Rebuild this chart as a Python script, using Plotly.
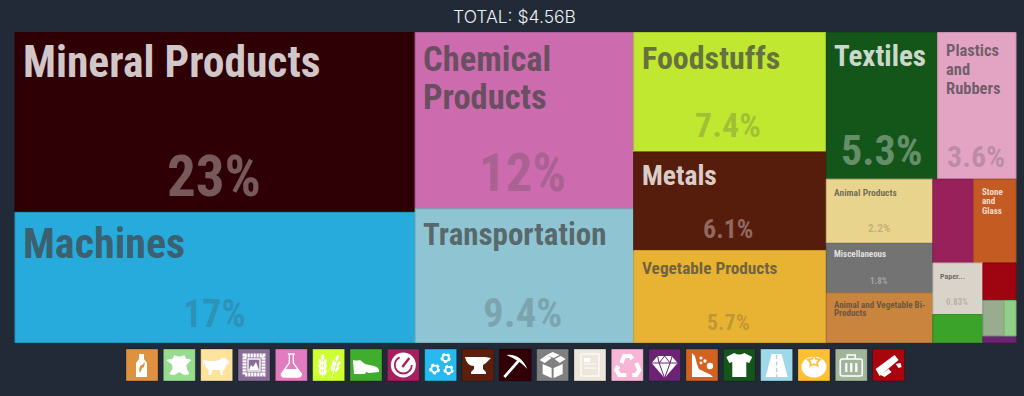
import urllib.parse
import plotly.graph_objects as go

TOTAL_LABEL = "TOTAL: $4.56B"
W, H = 1024, 396
BG = "#212a36"

# Tile data (share of total, per cent)
names = ["Mineral Products", "Machines", "Chemical Products", "Transportation", "Foodstuffs", "Metals",
         "Vegetable Products", "Textiles", "Plastics and Rubbers", "Animal Products", "Miscellaneous",
         "Animal and Vegetable Bi-Products", "Instruments", "Stone and Glass", "Paper Goods", "Footwear and Headwear",
         "Wood Products", "Weapons", "Animal Hides", "Precious Metals"]
shares = [23.15, 16.75, 12.4, 9.4, 7.4, 6.1, 5.7, 5.25, 3.7, 2.2, 1.7, 1.7, 1.1, 1.14, 0.83, 0.45, 0.40, 0.24, 0.135, 0.07]
colors = ["#2e0005", "#27abdd", "#cc6cae", "#8fc5d2", "#c0e830", "#561c0c", "#e8b232", "#14551a", "#e3a4c4",
          "#e8d48c", "#737373", "#c9843e", "#98215c", "#c45b22", "#d9d3c9", "#3ca32a", "#9e0510", "#98ac90",
          "#90cf85", "#6c2372"]

# Nesting of the tiles (slice and dice alternate with depth)
tree = [["Mineral Products", "Machines"],
        ["Chemical Products", "Transportation"],
        ["Foodstuffs", "Metals", "Vegetable Products"],
        [["Textiles", "Plastics and Rubbers"],
         [["Animal Products", "Miscellaneous", "Animal and Vegetable Bi-Products"],
          [["Instruments", "Stone and Glass"],
           [["Paper Goods", "Footwear and Headwear"],
            ["Wood Products", ["Weapons", "Animal Hides"], "Precious Metals"]]]]]]

# Legend of sections
legend_names = ["Animal and Vegetable Bi-Products", "Animal Hides", "Animal Products", "Arts and Antiques",
                "Chemical Products", "Foodstuffs", "Footwear and Headwear", "Instruments", "Machines", "Metals",
                "Mineral Products", "Miscellaneous", "Paper Goods", "Plastics and Rubbers", "Precious Metals",
                "Stone and Glass", "Textiles", "Transportation", "Vegetable Products", "Weapons", "Wood Products"]
legend_colors = ["#e0913f", "#98dd8f", "#ffe39d", "#8a6c97", "#e27cc1", "#cdff33", "#40ad2e", "#a6205f", "#27b9ef",
                 "#5c1f0c", "#300006", "#808080", "#ece6db", "#f7b6d6", "#6c2375", "#d3611f", "#14561a", "#9fd8e8",
                 "#ffbf33", "#a0b59a", "#a8050f"]

# Label text: (text, left x, centre y, size, light?)
FONT = "Roboto Condensed"
name_labels = [
    ("Mineral Products", 23, 63, 43.5, True),
    ("Chemical", 423, 59, 34.5, False),
    ("Products", 423, 97, 34.5, False),
    ("Foodstuffs", 642, 58, 32, False),
    ("Textiles", 834, 56, 29, True),
    ("Plastics", 946, 50, 16.5, False),
    ("and", 946, 69, 16.5, False),
    ("Rubbers", 946, 88, 16.5, False),
    ("Machines", 23, 243, 42, False),
    ("Transportation", 423, 234, 31, False),
    ("Metals", 642, 175, 27.5, True),
    ("Vegetable Products", 642, 268, 17.3, False),
    ("Animal Products", 834, 192, 9.5, False),
    ("Miscellaneous", 834, 254, 9, True),
    ("Animal and Vegetable Bi-", 834, 305, 9, False),
    ("Products", 834, 313, 9, False),
    ("Stone", 982, 192, 9, True),
    ("and", 982, 201, 9, True),
    ("Glass", 982, 211, 9, True),
    ("Paper...", 940, 276, 8, False),
]
# Share labels: (text, centre x, centre y, size, light?)
pct_labels = [
    ("23%", 214, 176, 57, True), ("12%", 522, 173, 53, False), ("7.4%", 728, 125, 34, False),
    ("5.3%", 881, 150, 42, True), ("3.6%", 976, 156, 30, False), ("17%", 214, 314, 38, False),
    ("9.4%", 523, 313, 41, False), ("6.1%", 728, 229, 26, True), ("5.7%", 728, 322, 22, False),
    ("2.2%", 879, 228, 11.5, False), ("1.8%", 879, 281, 9, True), ("0.83%", 957, 302, 9, False),
]

# Icons, each drawn in a 32x32 box
def sv(body):
    s = ('<svg xmlns="http://www.w3.org/2000/svg" width="64" height="64" viewBox="0 0 32 32">' + body + '</svg>')
    return "data:image/svg+xml;charset=utf-8," + urllib.parse.quote(s)

def gear(cx, cy, r):
    return (f'<circle cx="{cx}" cy="{cy}" r="{r}" fill="none" stroke="#fff" stroke-width="{r*0.55}"/>'
            f'<circle cx="{cx}" cy="{cy}" r="{r*1.35}" fill="none" stroke="#fff" stroke-width="{r*0.5}" stroke-dasharray="{r*0.9} {r*0.8}"/>')

def grain(x, y, rot):
    return f'<ellipse cx="{x}" cy="{y}" rx="1.5" ry="3" fill="#fff" transform="rotate({rot} {x} {y})"/>'

icons = [
    '<path fill="#fff" d="M13 5h5v5l3 4v14H10V14l3-4z"/><path fill="#e0913f" d="M19 13l-1 5-2 1-2 5-1-3 1-4 2-1z"/>',
    '<path fill="#fff" d="M11 6q5 3 10 0l2 4q4 0 5 1l-5 5 1 5 2 4q-4 2-7 0l-3-2-3 2q-3 2-7 0l3-5 0-4-6-5q2-1 6-1z"/>',
    '<path fill="#fff" d="M3 11q9 2 16 0l2-2 3 0 3 2 2 3-3 2-2 4-2 2 0 4h-2l-1-5-7 0-2 5h-2l0-5-3-3-1-4-2 3z"/>',
    '<rect x="6.5" y="6.5" width="19" height="19" fill="none" stroke="#fff" stroke-width="4" stroke-dasharray="2.3 .7" />'
    '<rect x="10" y="10" width="12" height="12" fill="none" stroke="#fff" stroke-width="1.4"/>'
    '<path fill="#fff" d="M11 21l2-5 2 2 3-5 3 8z"/>',
    '<path fill="none" stroke="#fff" stroke-width="1.3" d="M14 6v8L6 25q0 3 3 3h14q3 0 3-3L18 14V6M12.5 5h7"/>'
    '<path fill="#fff" d="M9.5 20h13l3.5 5q0 3-3 3H9q-3 0-3-3z"/>',
    '<path stroke="#fff" stroke-width="1" d="M10 28V11M19 29l5-18"/>' + grain(10, 8, 0) + grain(7.6, 13, -20) + grain(12.4, 13, 20) + grain(7.6, 18, -20) + grain(12.4, 18, 20) + grain(7.6, 23, -20) + grain(12.4, 23, 20) + grain(24.5, 9, 15) + grain(21, 14, 0) + grain(26, 15, 35) + grain(19.5, 19, 0) + grain(24.5, 20, 35),
    '<path fill="#fff" d="M3 11q4 1 7 0l5 4 9 2q4 1 5 4v2l-10 1-3-1-1 2H4z"/>',
    '<circle cx="16" cy="16" r="12.5" fill="#fff"/><circle cx="16" cy="16" r="8.5" fill="none" stroke="#a6205f" stroke-width="1.8" stroke-dasharray="36 18"/>'
    '<path stroke="#a6205f" stroke-width="2.4" d="M15 18l7-9"/>',
    gear(21, 9, 3.2) + gear(10, 20, 3.4) + gear(24, 21, 3.2),
    '<path fill="#fff" d="M3 8h20l6 1-5 5-3 2v4l3 3v2H9v-2l3-3v-3q-7 0-9-9z"/>',
    '<path fill="#fff" d="M4 27L19 10l2 2L6 29zM7 6q14-2 21 14q-8-9-21-14z"/>',
    '<path fill="#fff" d="M6 15l9 4v10l-9-4zM26 15l-9 4v10l9-4zM3 11l7-5 5 3-7 5zM10 6l6-3 7 3-6 3zM18 10l6-3 5 3-6 4z"/>',
    '<rect x="7" y="5" width="18" height="22" fill="none" stroke="#fff" stroke-width="1.2"/>'
    '<path stroke="#fff" stroke-width="1.2" d="M10 11h6M10 15h12M10 19h12"/><rect x="10" y="9" width="6" height="4" fill="#fff"/>',
    '<g fill="none" stroke="#fff" stroke-width="4.2"><path d="M10 14l3-7h6l2 3"/><path d="M25 14l3 7-3 5h-4"/><path d="M15 26H8l-3-5 2-4"/></g>',
    '<path fill="#fff" d="M9 7h14l6 7-13 15L3 14z"/><path stroke="#6c2375" stroke-width="1" fill="none" d="M3 14h26M10.500 14l5.500 15 5.500-15M9 7l1.500 7 5.500-7 5.500 7 2-7"/>',
    '<path fill="#fff" d="M6 4v24h21q-2-3-6-4l-8-4-2-5-2-8z"/><circle cx="15" cy="9" r="1.6" fill="#fff"/><circle cx="19" cy="12" r="1.7" fill="#fff"/>'
    '<circle cx="15" cy="14" r="1.4" fill="#fff"/><circle cx="24" cy="17" r="3.2" fill="#fff"/>',
    '<path fill="#fff" d="M11 4q5 3 10 0l8 4-3 6-3-1v15H9V13l-3 1-3-6z"/>',
    '<path fill="#fff" d="M11 5h10l6 23H5z"/><path stroke="#9fd8e8" stroke-width="1.3" stroke-dasharray="4 2.5" d="M16 6v22"/>',
    '<ellipse cx="16" cy="18" rx="12.500" ry="10.500" fill="#fff"/><path fill="#ffbf33" d="M16 4l2.500 5 5.500 1-4 4 1 4-5-2-5 2 1-4-4-4 5.500-1z"/><path fill="#fff" d="M16 7.500l1.200 3 3 .5-2 2 .5 2.500-2.700-1.300-2.700 1.300.5-2.500-2-2 3-.5z"/>',
    '<rect x="5" y="10" width="22" height="17" rx="2" fill="none" stroke="#fff" stroke-width="1.6"/><path fill="none" stroke="#fff" stroke-width="1.6" d="M12 10V6h8v4"/>'
    '<path stroke="#fff" stroke-width="2.2" d="M11 14v9M16 14v9M21 14v9"/>',
    '<path fill="#fff" d="M3 20L22 6l4 5L7 27zM23 15l5-1 1 4-3 1zM8 26l8-6 3 3-7 5z"/>',
]

name_to_share = dict(zip(names, shares))
name_to_color = dict(zip(names, colors))

def darker(h, f=0.88):
    r, g, b = int(h[1:3], 16), int(h[3:5], 16), int(h[5:7], 16)
    return f"rgb({int(r*f)},{int(g*f)},{int(b*f)})"

ids, labels, parents, values, node_colors, line_colors, line_widths = [], [], [], [], [], [], []

def add(node, parent, key):
    if isinstance(node, str):
        ids.append(node); labels.append(node); parents.append(parent)
        values.append(name_to_share[node]); node_colors.append(name_to_color[node])
        line_colors.append(darker(name_to_color[node])); line_widths.append(1)
    else:
        ids.append(key); labels.append(""); parents.append(parent)
        values.append(0); node_colors.append(BG); line_colors.append(BG); line_widths.append(0)
        for i, child in enumerate(node):
            add(child, key, f"{key}.{i}")

add(tree, "", "root")

fig = go.Figure()
fig.add_trace(go.Treemap(
    ids=ids, labels=labels, parents=parents, values=values, branchvalues="remainder", sort=False,
    textinfo="none", hoverinfo="label+value",
    tiling=dict(packing="slice-dice", pad=0),
    pathbar=dict(visible=False),
    marker=dict(colors=node_colors, line=dict(color=line_colors, width=line_widths),
                pad=dict(t=0, l=0, r=0, b=0), depthfade=False),
    domain=dict(x=[15 / W, 1016 / W], y=[1 - 342.5 / H, 1 - 32.5 / H]),
))

idx = list(range(len(legend_names)))
fig.add_trace(go.Scatter(
    x=idx, y=[0] * len(idx), mode="markers", text=legend_names, hoverinfo="text", showlegend=False,
    marker=dict(symbol="square", size=32, color=legend_colors, line=dict(color="rgba(0,0,0,0.25)", width=1)),
))

pitch = 37.33
x0 = 142 - pitch / 2
fig.update_layout(
    width=W, height=H, margin=dict(l=0, r=0, t=0, b=0), autosize=False,
    paper_bgcolor=BG, plot_bgcolor=BG, showlegend=False,
    title=dict(text=TOTAL_LABEL, x=514.5 / W, xanchor="center", y=1 - 17 / H, yanchor="middle",
               font=dict(family="Inter", size=17.5, weight=300, color="#eef0f2")),
    xaxis=dict(visible=False, range=[-0.5, len(idx) - 0.5], domain=[x0 / W, (x0 + pitch * len(idx)) / W]),
    yaxis=dict(visible=False, range=[-1, 1], domain=[1 - 385 / H, 1 - 345 / H], fixedrange=True),
)

for i, body in zip(idx, icons):
    fig.add_layout_image(source=sv(body), xref="x", yref="y", x=i, y=0, sizex=32 / pitch, sizey=1.6,
                         xanchor="center", yanchor="middle", sizing="contain", layer="above")

def note(text, x, y, size, color, anchor):
    fig.add_annotation(text=f"<b>{text}</b>", x=x / W, y=1 - y / H, xref="paper", yref="paper", xanchor=anchor,
                       yanchor="middle", showarrow=False, font=dict(family=FONT, size=size, color=color),
                       borderpad=0, borderwidth=0)

for t, x, y, s, light in name_labels:
    note(t, x, y, s, "rgba(255,255,255,0.78)" if light else "rgba(68,68,68,0.73)", "left")
for t, x, y, s, light in pct_labels:
    note(t, x, y, s, "rgba(255,255,255,0.35)" if light else "rgba(68,68,68,0.25)", "center")

fig.write_html("out.html", config=dict(displayModeBar=False),
               post_script="document.body.style.margin='0';document.body.style.overflow='hidden';document.body.style.background='" + BG + "';")
